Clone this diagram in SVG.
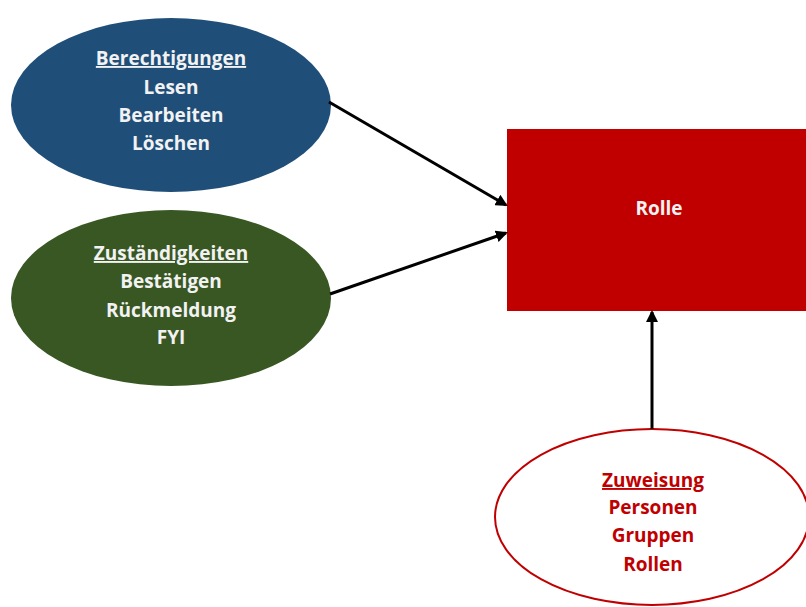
<svg xmlns="http://www.w3.org/2000/svg" width="806" height="607" viewBox="0 0 806 607">
<style>
.t{font-family:"Open Sans","Liberation Sans",sans-serif;font-weight:bold;font-size:19px;text-anchor:middle}
.w{fill:#f2f2f2}
.r{fill:#c00000}
.u{text-decoration:underline}
.c{stroke:#000;stroke-width:3;fill:none;marker-end:url(#ah)}
</style>
<defs>
<marker id="ah" markerWidth="12" markerHeight="12" refX="10" refY="6" orient="auto" markerUnits="userSpaceOnUse">
<path d="M0,0 L12,6 L0,12 Z" fill="#000"/>
</marker>
</defs>
<rect width="806" height="607" fill="#fff"/>
<g id="berechtigungen">
<ellipse cx="171" cy="105" rx="160" ry="87" fill="#1f4e79"/>
<text class="t w u" x="171" y="65">Berechtigungen</text>
<text class="t w" x="171" y="94">Lesen</text>
<text class="t w" x="171" y="122">Bearbeiten</text>
<text class="t w" x="171" y="150">Löschen</text>
</g>
<g id="zustaendigkeiten">
<ellipse cx="171" cy="298" rx="160" ry="88" fill="#385723"/>
<text class="t w u" x="171" y="260">Zuständigkeiten</text>
<text class="t w" x="171" y="288">Bestätigen</text>
<text class="t w" x="171" y="317">Rückmeldung</text>
<text class="t w" x="171" y="344">FYI</text>
</g>
<g id="rolle">
<rect x="507" y="129" width="300" height="182" fill="#c00000"/>
<text class="t w" x="659" y="215">Rolle</text>
</g>
<g id="zuweisung">
<ellipse cx="652" cy="517" rx="157" ry="88" fill="#fff" stroke="#c00000" stroke-width="2"/>
<text class="t r u" x="653" y="487">Zuweisung</text>
<text class="t r" x="653" y="514">Personen</text>
<text class="t r" x="653" y="542">Gruppen</text>
<text class="t r" x="653" y="571">Rollen</text>
</g>
<g id="connectors">
<line class="c" x1="329" y1="102" x2="506" y2="205"/>
<line class="c" x1="330" y1="294" x2="506" y2="233"/>
<line class="c" x1="652" y1="429" x2="652" y2="312"/>
</g>
</svg>
